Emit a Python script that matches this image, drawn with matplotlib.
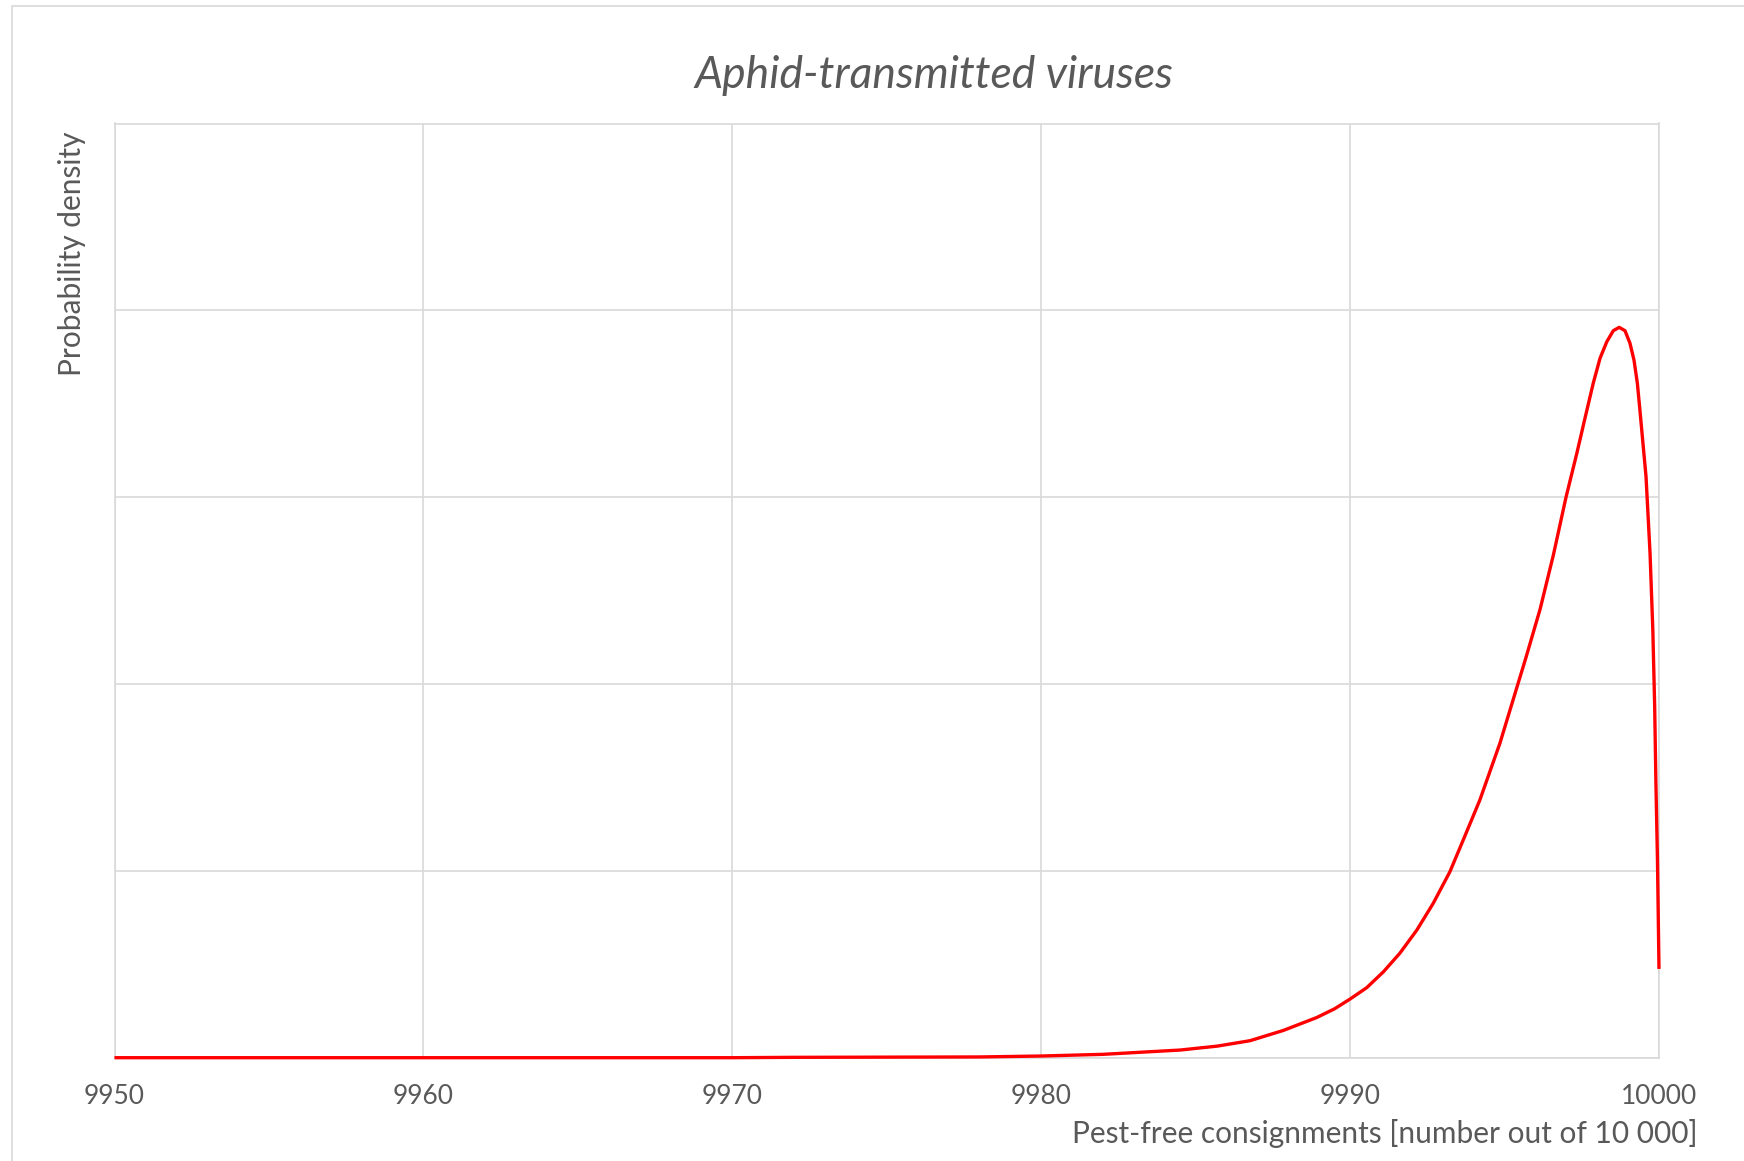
import matplotlib
matplotlib.use("Agg")
import matplotlib.pyplot as plt
from matplotlib.patches import Rectangle

# values (y in arbitrary density units, gridline = 1)
consignments = [9950, 9960, 9970, 9972, 9975, 9978, 9980, 9982, 9984.5,
                9985.7, 9986.76, 9987.84, 9988.92, 9989.5, 9990.0, 9990.54,
                9991.08, 9991.61, 9992.16, 9992.69, 9993.23, 9993.7, 9994.2,
                9994.85, 9995.44, 9995.69, 9996.15, 9996.58, 9996.99, 9997.34,
                9997.60, 9997.87, 9998.09, 9998.31, 9998.52, 9998.71, 9998.90,
                9999.06, 9999.19, 9999.30, 9999.38, 9999.58, 9999.71, 9999.80,
                9999.86, 9999.90, 9999.95, 10000]
density = [0.0, 0.0, 0.0, 0.002, 0.003, 0.004, 0.009, 0.018, 0.041,
           0.062, 0.091, 0.146, 0.215, 0.262, 0.314, 0.375,
           0.46, 0.559, 0.683, 0.826, 0.995, 1.18, 1.379,
           1.683, 2.004, 2.14, 2.40, 2.69, 3.0, 3.235,
           3.42, 3.609, 3.743, 3.832, 3.891, 3.909, 3.891,
           3.824, 3.734, 3.609, 3.47, 3.11, 2.70, 2.29,
           1.88, 1.47, 1.06, 0.475]

x_ticks = [9950, 9960, 9970, 9980, 9990, 10000]
y_grid = [0, 1, 2, 3, 4, 5]

TEXT = "#595959"
GRID = "#d9d9d9"
FONT = ["Lato", "DejaVu Sans"]

fig = plt.figure(figsize=(17.44, 11.61), dpi=100)
ax = fig.add_axes([114.5 / 1744, 1 - 1057.7 / 1161,
                   (1659 - 114.5) / 1744, (1057.7 - 123.5) / 1161])

ax.plot(consignments, density, color="#ff0000", lw=2.4, solid_capstyle="butt",
        solid_joinstyle="round", zorder=3, clip_on=False)

ax.set_xlim(9950, 10000)
ax.set_ylim(0, 5)
ax.set_xticks(x_ticks)
ax.set_yticks(y_grid)
ax.set_yticklabels([])
ax.tick_params(axis="both", length=0)
ax.tick_params(axis="x", pad=19, labelsize=19, labelcolor=TEXT)
for lab in ax.get_xticklabels():
    lab.set_family(FONT)
ax.grid(True, color=GRID, lw=1.2)
for s in ax.spines.values():
    s.set_color(GRID)
    s.set_linewidth(1.2)

fig.text(934 / 1744, 1 - 76 / 1161, "Aphid-transmitted viruses", ha="center",
         va="center", fontsize=32, style="italic", color=TEXT, family=FONT)
fig.text(1698 / 1744, 1 - 1133 / 1161,
         "Pest-free consignments [number out of 10 000]", ha="right",
         va="center", fontsize=21.5, color=TEXT, family=FONT)
fig.text(72 / 1744, 1 - 131 / 1161, "Probability density", ha="center",
         va="top", rotation=90, fontsize=21.5, color=TEXT, family=FONT)

# outer chart frame
fig.patches.append(Rectangle((11.7 / 1744, -0.05), 1.1, 1.05 - 6 / 1161,
                             transform=fig.transFigure, fill=False,
                             edgecolor=GRID, lw=1.2))

fig.savefig("out.png", dpi=100)
